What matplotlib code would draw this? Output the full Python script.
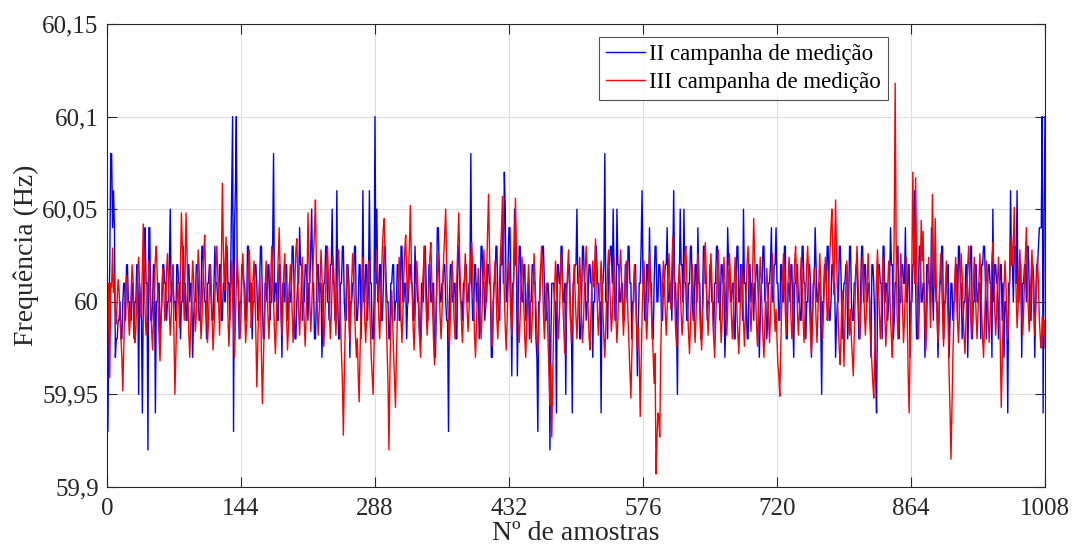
import matplotlib
matplotlib.use('Agg')
import matplotlib.pyplot as plt
import numpy as np

# II campanha: desvio em centésimos de Hz em relação a 60 Hz (amostras 0..1008)
campanha2_cHz = [
    -2, -7, -1, 2, 8, 8, 4, 6, 4, -3, -2, -2, -1, -1, 0, -2, -2, 0, 1, 1, -1, 2, 2, 0,
    0, -1, -1, 1, 1, -2, 0, 0, 2, 2, -5, 1, 0, -1, -6, 0, 3, 4, 1, 1, -8, 4, 4, -1,
    -1, 0, 2, 2, -6, 0, 0, 1, 1, -2, -1, 0, 2, 2, 1, 1, -1, 0, 0, 2, 5, 0, 1, 1,
    0, 0, -1, 2, 2, 1, 1, -2, 0, 0, 3, 1, 1, -1, -1, 2, 2, 0, 1, 1, -3, -1, 0, 0,
    2, 2, 1, -1, -1, 0, 3, 3, 1, 0, 0, -2, 1, 1, 2, 2, 0, -1, -1, 1, 3, 1, 1, 0,
    0, 2, 2, -1, -1, 1, 1, 0, 3, 3, 1, 1, -1, 2, 6, 10, -7, 4, 6, 10, 1, 1, -2, 0,
    0, 2, 2, 1, 1, -1, -1, 3, 3, 0, 1, 1, -2, 0, 0, 2, 2, 1, -1, -1, 1, 3, 3, 0,
    -2, -2, 1, 1, 0, 2, 2, -1, 0, 0, 3, 8, 0, 1, 1, -1, -1, 2, 2, 0, -3, 1, 1, 0,
    2, 2, -1, -1, 1, 0, 0, 3, 3, 1, -2, -2, 0, 1, 1, 4, 2, 2, -1, 0, 0, 2, 2, 1,
    -1, 1, 1, 3, 5, 1, 1, -2, -2, 0, 2, 2, 0, 1, 1, -3, -1, 1, 1, 3, 3, 0, 0, -1,
    2, 2, 5, 1, 1, -1, 0, 6, 0, -2, -2, 1, 1, 3, 3, 0, -1, -1, 2, 2, 1, -3, 0, 0,
    1, 1, 3, 3, -1, -1, 0, 2, 2, -2, 0, 6, 0, 0, 2, 2, -1, 1, 6, 1, 1, -2, -2, 0,
    10, 1, 5, 0, 0, 2, 2, -1, -1, 1, 3, 3, 1, 0, 0, -2, -2, 1, 1, 2, 2, -1, 0, 0,
    2, 2, -1, -1, 3, 3, 0, 0, 1, 1, -2, 0, 0, 2, 2, 1, 1, -1, -1, 3, 1, 1, 0, 0,
    -2, -2, 1, 1, 0, 3, 3, 1, -1, -1, 2, 2, 0, 0, 1, 1, -3, -3, 0, 4, 4, 2, 0, 0,
    1, 1, 2, 2, 0, -1, -1, -7, 0, 2, 2, 0, 0, 1, 1, -2, -2, 3, 3, 1, 0, 0, -1, 1,
    1, 2, 2, 0, 0, 1, 1, 8, 1, -1, -1, 2, 2, 0, 1, 1, -2, 0, 3, 3, 1, 1, -1, 0,
    0, 2, 2, 1, 1, -3, -3, 0, 1, 1, 3, 3, 0, -1, -1, 2, 2, 4, 1, 7, 5, 0, 0, 2,
    4, 4, 1, -4, 1, 1, 5, 2, 2, -4, 0, 3, 3, 1, 0, 0, 2, 2, -1, -1, 1, 1, -2, 0,
    0, 2, 2, 1, 1, -2, -3, -7, 0, 0, 2, 2, 3, 3, 1, -1, -1, 1, 1, 0, -8, -2, 1, 1,
    1, 0, 0, -6, 2, 2, 1, 1, 3, 3, 0, 0, 1, -5, 1, 1, 2, 2, -1, -1, -6, 1, 1, 2,
    2, 5, 1, 1, -2, -2, 0, 3, 3, 1, 1, -1, 0, 0, 2, 2, 1, 1, -3, 0, 0, 3, 3, 1,
    1, 0, 0, -6, 1, 1, 2, 8, 0, 0, -2, 2, 2, 3, 3, 1, 5, 1, -1, -1, 5, 2, 2, 0,
    0, 1, 1, -1, -1, 2, 2, 0, 3, 3, 1, 1, -2, 0, 0, 2, 2, -1, -4, -1, 1, 1, 3, 6,
    1, 1, -1, -1, 2, 2, 0, 4, 1, 1, -2, -2, 1, 3, 3, 0, 0, 2, 2, 1, -1, -1, 1, 1,
    2, 2, 4, 0, 0, 1, 1, -1, 2, 6, 1, 1, -1, -5, 1, 1, 5, 2, 2, 0, 5, 1, 1, -1,
    -1, 1, 1, 3, 3, 0, -1, -1, 2, 2, 0, 4, 1, 1, -2, -2, 0, 3, 3, 1, 1, -1, 0, 0,
    2, 2, 0, 0, -2, 1, 1, 3, 3, 0, 0, -1, 2, 2, 1, 1, -3, -1, 0, 4, 2, 2, 0, 0,
    1, 1, -2, -2, 1, 3, 3, 0, 0, 2, 2, -1, 5, 1, 1, 0, -2, -2, 2, 2, 0, 1, 1, -1,
    1, 1, 2, 2, 0, -3, -1, 1, 1, 3, 3, 0, 0, -2, -1, 1, 1, 2, 4, 0, 0, 2, 2, 4,
    1, 1, -1, -1, 2, 2, 0, 0, 3, 3, -2, -2, 1, 1, 0, 2, 2, -1, -3, 1, 1, 2, 2, 0,
    0, -1, -1, 3, 3, 1, 1, -2, 0, 0, 2, 2, 1, -3, -1, 1, 1, 4, 2, 0, 0, 1, 1, -1,
    -5, 0, 0, 2, 2, 1, 3, 3, -1, -1, 0, 2, 2, 1, 1, -3, -1, 0, 0, 3, 3, 1, -2, 0,
    1, 1, 2, 2, -2, 0, 3, 3, 0, -1, -1, 1, 1, 2, 2, 0, -2, -2, 1, 3, 3, 0, 2, 2,
    0, 0, 1, 1, -1, -3, 2, 2, 1, -1, -4, -6, 0, 2, 2, 1, 1, -2, 3, 3, 0, 1, 1, -1,
    0, 1, 4, 2, 2, -2, -1, 1, 1, 3, 3, -2, 0, 0, 2, 2, 1, 1, 4, 0, 0, 2, 2, -3,
    0, 0, 2, 2, 6, 1, -2, -2, 1, 3, 3, 0, 0, 1, 1, -3, -1, 2, 2, 1, 1, 0, 4, 1,
    -1, 2, 2, 0, 0, -3, -1, 1, 1, 3, 3, -2, 0, 0, 1, 1, 2, -3, -1, 1, 1, -1, 0, 0,
    2, 2, -1, 3, 3, 1, 1, -2, -1, 0, 0, 2, 2, -3, 0, 1, 3, 3, -2, 0, 0, 2, 2, 0,
    0, 1, 1, -2, 2, 2, 3, 3, 1, -2, 0, 2, 2, 1, 1, -3, 5, 0, 2, 2, 1, 1, -2, 0,
    2, 2, -1, 1, -3, 0, 0, -1, -6, 1, 1, 6, 2, 2, 0, 3, 3, 1, 6, 0, 0, 2, 2, -3,
    1, 1, 2, 2, 0, 3, 3, 1, -1, -1, 2, 2, 1, -3, 0, 2, 2, 3, 4, 4, 4, 10, -6, 4,
    10,
]

# III campanha: desvio em milésimos de Hz em relação a 60 Hz
campanha3_mHz = [
    -50, 10, 5, -41, 10, 8, 29, 5, 15, -5, -12, 2, 12, 6, -8, -20, -30, -48, -25, -5, 8, 14, 4, -6,
    -18, -10, 6, 20, 12, -4, -22, -15, 2, 16, 24, 10, -8, -2, 18, 42, 20, -6, -18, -10, 8, 22, 12, -4,
    -16, -26, -8, 10, 24, 30, 14, -2, -20, -32, -14, 6, 18, 8, -10, -4, 16, 26, 12, -6, -18, -8, 10, 20,
    -20, -50, -28, -6, 12, 2, -14, 20, 48, 30, 8, -10, 20, 48, 26, 4, -18, -30, -12, 6, 22, 14, -4, -16,
    -6, 10, 28, 18, -2, -20, -10, 8, 26, 36, 14, -4, -22, -12, 6, 20, 8, -10, -26, -14, 2, 18, 30, 16,
    -2, -18, 4, 24, 64, 30, 6, 20, 35, 12, -8, -24, -10, 8, 22, 4, -14, -30, -12, 10, 24, 12, -6, -20,
    -8, 14, 26, 10, -6, -22, -12, 4, 20, 28, 8, -14, -4, 12, 22, 6, -18, -46, -24, -2, 14, 2, -30, -55,
    -34, -12, 8, 22, 10, -8, -20, -4, 14, 30, 18, 0, -16, -28, -10, 8, 24, 40, 16, -6, -18, -2, 16, 26,
    8, -12, -26, -14, 6, 20, 10, -6, -22, -8, 12, 28, 34, 14, -6, -18, -4, 14, 24, 6, -12, -24, -6, 10,
    48, 22, -2, -16, -4, 14, 26, 38, 55, 20, -4, -18, -6, 12, 28, 14, -8, -24, -10, 6, 20, 30, 12, -6,
    -20, -8, 10, 24, 12, -6, -18, -2, 16, 28, 10, -12, -28, -44, -72, -40, -14, 6, 20, 8, -10, -22, -6, 12,
    26, 14, -4, -18, -30, -20, -40, -54, -26, -4, 12, 24, 8, -10, -22, -8, 10, 22, 6, -14, -30, -40, -50, -24,
    -2, 16, 28, 12, -8, -20, -6, 14, 30, 40, 45, 18, -6, -24, -44, -80, -40, -12, 6, -10, -28, -42, -57, -30,
    -8, 12, 24, 8, -10, -22, -6, 14, 28, 36, 18, -2, 14, 30, 52, 24, 4, -14, -26, -10, 8, 22, 10, -8,
    -20, -30, -12, 6, 18, 30, 14, -4, -18, -8, 10, 24, 32, 12, -6, -22, -34, -16, 2, 16, 26, 10, -8, -20,
    -6, 12, 26, 38, 50, 22, 2, -14, -24, -8, 10, 22, 8, -10, -20, -4, 14, 30, 48, 24, 4, -12, -22, -8,
    10, 26, 14, -4, -16, -6, 12, 24, 32, 16, -2, -18, -30, -14, 4, 18, 8, -8, -20, -6, 12, 28, 14, -4,
    16, 34, 58, 30, 8, -12, -24, -8, 10, 22, 8, -10, -20, -4, 14, 28, 40, 57, 26, 4, -14, -26, -10, 8,
    22, 10, -6, -18, -4, 14, 32, 56, 28, 6, -12, -22, -8, 10, 24, 14, -4, -20, -30, -12, 6, 20, 8, -10,
    -22, -8, 10, 26, 12, -4, -16, -28, -14, 4, 18, 30, 14, -6, -20, -8, 10, -4, -22, -40, -56, -34, -73, -40,
    -14, 6, 22, 12, -6, -20, -10, 8, 26, 16, -2, -16, -28, -12, 4, 18, 28, 12, -6, -22, -10, 8, 20, 6,
    -8, -20, -6, 12, 24, 10, -8, -22, -12, 6, 20, 30, 14, -4, -18, -26, -8, 10, 22, 8, 16, 34, 14, -4,
    -18, -8, 10, 22, 10, -6, -20, -30, -14, 4, 18, 28, 14, -2, -16, -8, 10, 24, 8, -10, -22, -10, 6, 18,
    28, 12, -4, -18, -6, 10, 22, 8, -10, -24, -38, -52, -30, -8, 10, 20, 6, -12, -26, -14, -30, -62, -34, -8,
    10, 22, 8, -8, -20, -6, 12, 26, 14, -4, -16, -30, -44, -28, -93, -75, -60, -62, -73, -30, -4, 12, 22, 10,
    -6, -18, -4, 14, 26, 10, -4, 18, 35, 20, 2, -14, -24, -10, 8, 20, 10, -6, -18, -8, 10, 24, 30, 14,
    -4, -18, -28, -12, 6, 20, 8, -10, -22, -8, 12, 26, 14, -4, -16, -26, -10, 8, 22, 32, 14, -4, -18, -6,
    12, 26, 12, -6, -20, -30, -14, 4, 18, 28, 10, -8, -22, -10, 8, 24, 12, -6, -18, -4, 14, 26, 10, -8,
    -20, -8, 10, 24, 12, -6, -18, -28, -12, 6, 20, 8, -10, -24, -10, 8, 22, 30, 14, -2, -16, -4, 20, 45,
    24, 4, -12, -24, -8, 10, 24, 12, -6, -20, -30, -12, 6, 18, 8, -10, -22, -8, 12, 26, 14, -4, -16, -4,
    -20, -34, -40, -51, -26, -4, 14, 26, 12, -6, -18, -4, 12, 24, 10, -8, -20, -10, 8, 22, 30, 12, -6, -18,
    -6, 12, 24, 10, -8, -22, -10, 6, 20, 30, 14, -4, -18, -28, -12, 6, 18, 8, -10, -22, -6, 12, 26, 10,
    -8, -20, -6, 12, 24, 8, -10, -4, 14, 28, 40, 50, 24, 4, 30, 55, 26, 4, -14, -26, -34, -14, 6, -8,
    -35, -12, 8, 22, 10, -8, -18, -4, -20, -30, -40, -18, 2, 18, 30, 14, -6, -20, -8, 10, 24, 12, -6, -18,
    -6, 12, 26, 10, -8, -22, -34, -44, -52, -28, -6, 14, 28, 12, -6, -20, -8, 10, 24, 8, -10, -24, -10, 8,
    22, 10, -8, -20, -30, -4, 40, 118, 34, -6, -20, -8, 10, 26, 12, -6, -22, -10, 8, 24, -10, -40, -60, -28,
    -4, 20, 70, 30, 10, 67, 24, -6, -20, -4, 16, 44, 22, 38, 8, -12, -26, -10, 10, 24, 6, -14, 12, 58,
    26, 8, 45, 14, -8, -22, -8, 12, 26, 10, -8, -24, -10, 8, 22, 6, -14, -40, -60, -85, -56, -30, -8, 12,
    24, 8, -10, -22, -8, 10, 26, 14, -4, -18, -28, -12, 6, 20, 30, 12, -6, -20, -8, 10, 24, 10, -8, -20,
    -6, 12, 26, 12, -6, -20, -30, -12, 6, 22, 10, -8, -22, -10, 8, 24, 32, 14, -4, -18, -6, 12, 24, 8,
    -26, -57, -34, -10, 8, 22, 10, -8, -20, -6, 12, 26, 36, 20, 30, 51, 24, 4, -14, -4, 14, 28, 12, -6,
    -18, -6, 12, 26, 40, 14, -4, -16, -4, 14, 28, 12, -6, -18, -4, 12, 24, 8, -10, -20, -25, -8, -18, -10,
    -25,
]

xticks = [0, 144, 288, 432, 576, 720, 864, 1008]
yticks = [59.9, 59.95, 60.0, 60.05, 60.1, 60.15]
ytick_labels = ['59,9', '59,95', '60', '60,05', '60,1', '60,15']

plt.rcParams['font.family'] = ['Liberation Serif', 'DejaVu Serif']

f2 = 60 + np.array(campanha2_cHz) / 100.0
f3 = 60 + np.array(campanha3_mHz) / 1000.0
amostras2 = np.arange(len(f2))
amostras3 = np.arange(len(f3))

fig = plt.figure(figsize=(10.72, 5.52), dpi=100)
ax = fig.add_axes([0.0998, 0.1178, 0.875, 0.8387])

ax.plot(amostras2, f2, color='#0000ff', linewidth=1.0, label='II campanha de medição')
ax.plot(amostras3, f3, color='#ff0000', linewidth=1.0, label='III campanha de medição')

ax.set_xlim(0, 1008)
ax.set_ylim(59.9, 60.15)
ax.set_xticks(xticks)
ax.set_xticklabels([str(t) for t in xticks])
ax.set_yticks(yticks)
ax.set_yticklabels(ytick_labels)
ax.tick_params(direction='in', length=7, width=0.8, labelsize=18, colors='#262626',
               top=True, right=True)
ax.tick_params(axis='x', pad=8)
ax.tick_params(axis='y', pad=6)
for s in ax.spines.values():
    s.set_color('#262626')
    s.set_linewidth(0.8)
ax.grid(True, color='#dedede', linewidth=0.8)
ax.set_axisbelow(True)

ax.set_xlabel('Nº de amostras', fontsize=20, color='#262626', labelpad=1)
ax.set_ylabel('Frequência (Hz)', fontsize=20, color='#262626', labelpad=2)

leg = ax.legend(loc='upper right', bbox_to_anchor=(0.8326, 0.972), fontsize=16.5,
                frameon=True, fancybox=False, borderpad=0.3, labelspacing=0.3,
                handlelength=1.7, handletextpad=0.2, borderaxespad=0.0)
leg.get_frame().set_edgecolor('#262626')
leg.get_frame().set_linewidth(0.8)

fig.savefig('out.png', dpi=100)
plt.close(fig)
